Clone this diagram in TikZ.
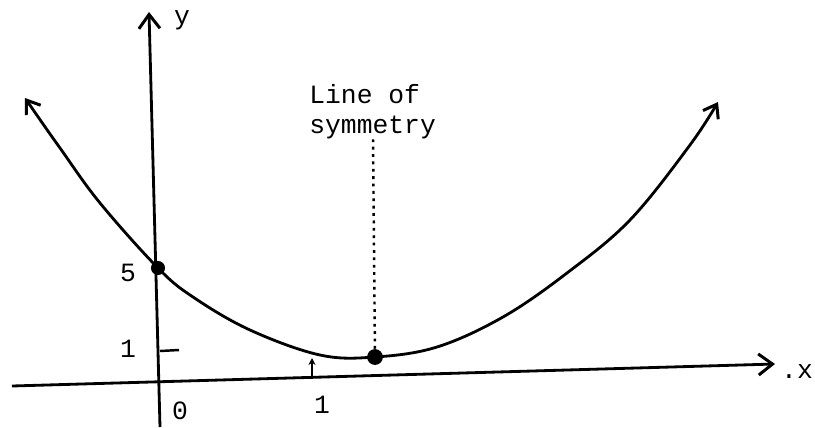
\documentclass[tikz,border=0pt]{standalone}
\usepackage{fontspec}
\setmainfont{Liberation Mono}
\usetikzlibrary{arrows.meta}
\begin{document}
\begin{tikzpicture}[x=0.02cm,y=-0.02cm,
  axisline/.style={line width=1.6pt,-{Straight Barb[length=8pt,width=12pt,line width=1.7pt]}},
  curveline/.style={line width=1.6pt,line cap=round,line join=round,
    {Straight Barb[length=7pt,width=10pt,line width=1.7pt]}-{Straight Barb[length=7pt,width=10pt,line width=1.7pt]}},
  lbl/.style={font=\fontsize{15pt}{17pt}\selectfont,inner sep=0pt},
  pt/.style={circle,fill=black,inner sep=0pt,minimum size=#1}]
\useasboundingbox (0,0) rectangle (815,427);
% axes
\coordinate (xl) at (12,386);
\coordinate (xr) at (775,364);
\coordinate (yb) at (160,427);
\coordinate (yt) at (149,12);
\draw[axisline] (xl) -- (xr);
\draw[axisline] (yb) -- (yt);
% curve
\draw[curveline] plot[smooth,tension=0.6] coordinates {(25,98) (60,148) (100,203) (158,268) (193,297) (250,330) (320,355) (375,357) (437,347) (503,317) (567,273) (630,220) (690,145) (718,102)};
% points
\node[pt=8pt] (p5) at (158,268) {};
\node[pt=9pt] (pv) at (375,357) {};
% ticks
\coordinate (t1a) at (160,351);
\coordinate (t1b) at (179,350);
\draw[line width=1.4pt] (t1a) -- (t1b);
\coordinate (x1a) at (312,379);
\coordinate (x1b) at (312,358);
\draw[line width=1.4pt,-{Stealth[length=4pt,width=4pt]}] (x1a) -- (x1b);
% line of symmetry
\node[lbl,anchor=north west,align=left] (los) at (309,84) {Line of\\symmetry};
\coordinate (st) at (373,138);
\draw[line width=1.4pt,dash pattern=on 1.6pt off 2.6pt] (pv) -- (st);
% labels
\node[lbl] (ly) at (182,20) {y};
\node[lbl] (lx) at (797,372) {.x};
\node[lbl] (l5) at (128,273) {5};
\node[lbl] (l1y) at (128,349) {1};
\node[lbl] (l0) at (180,411) {0};
\node[lbl] (l1x) at (322,405) {1};
\end{tikzpicture}
\end{document}
